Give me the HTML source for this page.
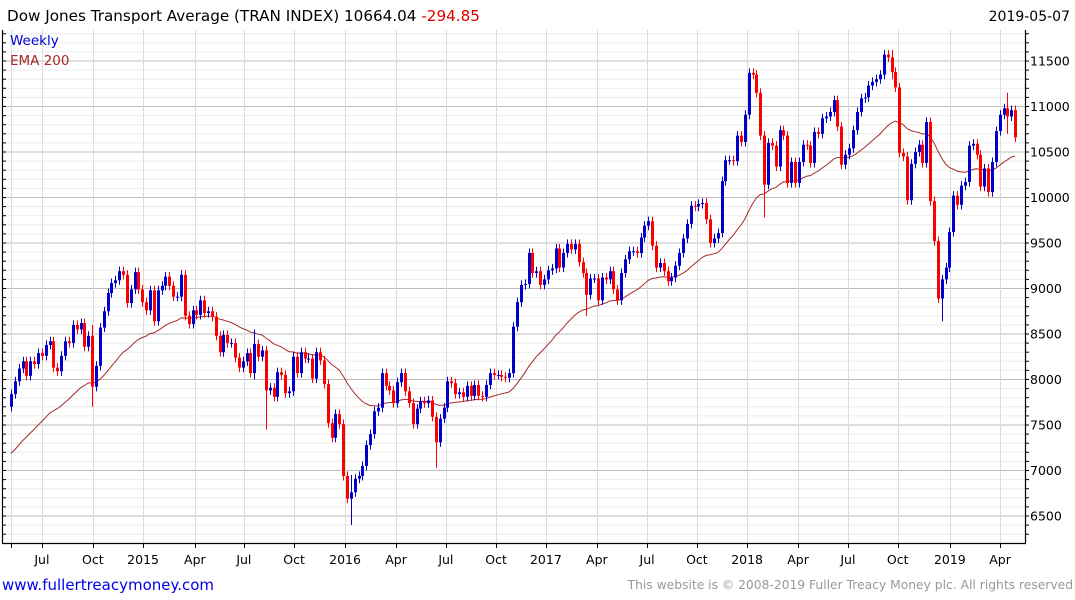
<!DOCTYPE html>
<html><head><meta charset="utf-8">
<style>
html,body{margin:0;padding:0;background:#fff;width:1075px;height:600px;overflow:hidden}
svg{display:block}
text{font-family:"DejaVu Sans","Liberation Sans",sans-serif}
</style></head>
<body>
<svg id="chart" width="1075" height="600">
  <text x="7" y="21" font-size="15.2" fill="#000">Dow Jones Transport Average (TRAN INDEX) 10664.04 <tspan fill="#e00000">-294.85</tspan></text>
  <text x="1070" y="21" font-size="14" text-anchor="end" fill="#000">2019-05-07</text>
  <g id="grid"></g>
  <g id="ema"></g>
  <g id="candles"></g>
  <g id="axes"></g>
  <text x="10" y="45" font-size="13.5" fill="#0000dd">Weekly</text>
  <text x="10" y="65" font-size="13.5" fill="#a52a2a">EMA 200</text>
  <text x="2" y="590" font-size="15" fill="#0000ee">www.fullertreacymoney.com</text>
  <text x="1073" y="589" font-size="12.3" fill="#999" text-anchor="end">This website is © 2008-2019 Fuller Treacy Money plc. All rights reserved</text>
</svg>
<script>
const closes = [
7840,7980,8120,8200,8040,8200,8170,8290,8260,8380,
8420,8130,8090,8260,8420,8400,8600,8550,8620,8360,
8480,7920,8150,8570,8750,8950,9060,9090,9190,9150,
8840,8990,9180,8990,8850,8760,8980,8640,8980,9030,
9130,9030,8910,8910,9150,8700,8610,8760,8710,8870,
8730,8750,8690,8480,8300,8490,8400,8400,8240,8130,
8200,8290,8070,8390,8250,8320,7880,7910,
7810,8080,8050,7850,7870,8250,8070,8300,8230,8230,
8010,8300,8210,7950,7520,7360,7620,7510,6940,6690,
6760,6910,6940,7050,7280,7400,7650,7690,8070,7930,
7880,7740,7970,8070,7870,7740,7510,7680,7760,7740,
7770,7590,7310,7570,7690,7980,7960,7840,7860,7810,
7930,7820,7940,7820,7810,7940,8070,8050,8050,8030,
8020,8070,8580,
8850,9040,9050,9390,9170,9190,9040,9100,9200,9220,
9440,9230,9390,9490,9430,9490,9290,9170,8930,9110,
9110,8870,9120,9100,9190,8990,8870,9170,9320,9410,
9410,9390,9560,9690,9740,9470,9230,9280,9190,9080,
9120,9250,9390,9550,9710,9910,9900,9930,9940,9760,
9500,9550,9610,10180,10410,10410,10400,10680,10610,10910,
11370,11350,11150,10680,
10140,10600,10570,10340,10740,10680,10160,10390,10160,10390,
10580,10570,10380,10720,10700,10870,10890,10940,11070,10780,
10360,10470,10540,10740,10940,11090,11100,11230,11270,11300,
11350,11570,11540,11380,11210,10490,10450,9970,10370,10500,
10580,10380,10830,9960,9520,8890,9100,9230,9620,10020,
9920,10130,10170,10570,10590,10470,10120,10320,10060,10390,
10730,10910,10980,10890,10960,10660
];
const firstOpen = 7700;
const spikeIdx  = [21, 63, 66, 88, 110, 149, 195, 228, 241, 258];
const spikeHigh = [8600, 8550, 8350, 6950, 7600, 9000, 10700, 11620, 9150, 11150];
const spikeLow  = [7700, 8000, 7450, 6400, 7030, 8700, 9780, 11300, 8640, 10700];
const emaSeed = 7150;
const emaPeriod = 36;
const yTicks = [6500,7000,7500,8000,8500,9000,9500,10000,10500,11000,11500];
const xTickLabels = ["Jul","Oct","2015","Apr","Jul","Oct","2016","Apr","Jul","Oct","2017","Apr","Jul","Oct","2018","Apr","Jul","Oct","2019","Apr"];
const xTickWeeks = [8.0,21.2,34.2,47.6,60.3,73.3,86.5,99.7,112.6,125.6,138.5,151.7,164.7,177.6,190.6,203.8,216.7,229.6,243.1,256.1];

const NS = "http://www.w3.org/2000/svg";
const L = 2, R = 1025, T = 30, B = 543;
const X0 = 11, STEP = 3.862;
function xs(i){ return X0 + i*STEP; }
function ys(v){ return 61 + (11500 - v)*0.091; }
function mk(tag, attrs, parent){
  const e = document.createElementNS(NS, tag);
  for (const k in attrs) e.setAttribute(k, attrs[k]);
  parent.appendChild(e);
  return e;
}
const grid = document.getElementById('grid');
const axes = document.getElementById('axes');
for (let v = 6300; v <= 11800; v += 100) {
  const y = ys(v);
  if (y < T || y > B) continue;
  const major = v % 500 === 0;
  const ln = mk('line', {x1:L, x2:R, y1:y, y2:y, stroke: major ? '#bdbdbd' : '#ececec', 'stroke-width':1}, grid);
  
  
  const t1 = mk('line', {x1:R, x2:R+4, y1:y, y2:y, stroke:'#000'}, axes);
  
  
  const t2 = mk('line', {x1:L, x2:L+4, y1:y, y2:y, stroke:'#000'}, axes);
  
  
}
yTicks.forEach(v => {
  const t = mk('text', {x:R+5, y:ys(v)+4.5, 'font-size':12.5, fill:'#000'}, axes);
  t.textContent = v;
  
  
});
[0].concat(xTickWeeks).forEach((w, k) => {
  const x = Math.round(xs(w)) + 0.5;
  const ln = mk('line', {x1:x, x2:x, y1:T, y2:B, stroke:'#dcdcdc'}, grid);
  
  
  const tk = mk('line', {x1:x, x2:x, y1:B, y2:B+5, stroke:'#000'}, axes);
  
  
});
xTickWeeks.forEach((w, k) => {
  const t = mk('text', {x:xs(w), y:564, 'font-size':12.5, 'text-anchor':'middle', fill:'#000'}, axes);
  t.textContent = xTickLabels[k];
  
  
});
const ax = mk('path', {d:`M${L+0.5},${T} V${B+0.5} H${R+0.5} V${T}`, fill:'none', stroke:'#000', 'stroke-width':1.2}, axes);



const alpha = 2/(emaPeriod+1);
let e = emaSeed, pts = [];
closes.forEach((c, i) => { e = e + alpha*(c - e); pts.push(xs(i).toFixed(1)+','+ys(e).toFixed(1)); });
const emaLine = mk('polyline', {points:pts.join(' '), fill:'none', stroke:'#a52a2a', 'stroke-width':1}, document.getElementById('ema'));



const cg = document.getElementById('candles');
closes.forEach((c, i) => {
  const o = i === 0 ? firstOpen : closes[i-1];
  const up = c >= o;
  const col = up ? '#0000cc' : '#ff0000';
  let hi = Math.max(o, c) + 50, lo = Math.min(o, c) - 50;
  const s = spikeIdx.indexOf(i);
  if (s >= 0) { hi = Math.max(hi, spikeHigh[s]); lo = Math.min(lo, spikeLow[s]); }
  const x = Math.round(xs(i));
  const g = mk('g', {}, cg);
  
  
  mk('line', {x1:x+0.5, x2:x+0.5, y1:ys(hi), y2:ys(lo), stroke:col, 'stroke-width':1}, g);
  const top = ys(Math.max(o, c)), bot = ys(Math.min(o, c));
  mk('rect', {x:x-1, y:top, width:3, height:Math.max(1, bot-top), fill:col}, g);
});
</script>
</body></html>
